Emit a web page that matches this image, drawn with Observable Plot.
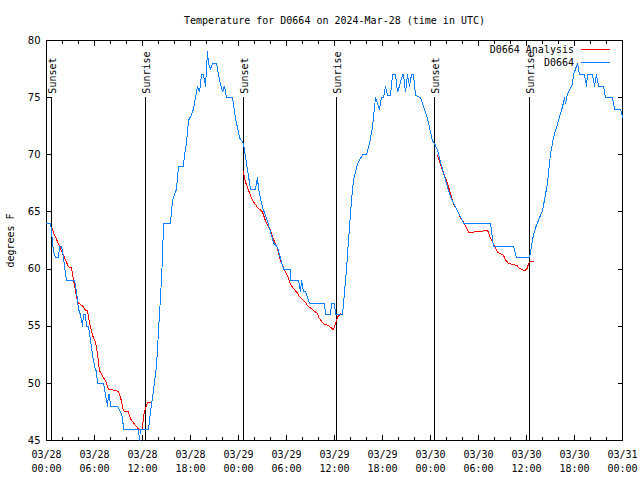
<!DOCTYPE html>
<html>
<head>
<meta charset="utf-8">
<script src="https://cdn.jsdelivr.net/npm/d3@7"></script>
<script src="https://cdn.jsdelivr.net/npm/@observablehq/plot@0.6"></script>
<style>
  html, body { margin: 0; padding: 0; background: #fff; }
  #chart { width: 640px; height: 480px; }
  #chart svg line, #chart svg path, #chart svg rect { shape-rendering: crispEdges; }
</style>
</head>
<body>
<div id="chart"></div>
<script>
// ---- Data (hours since 2024-03-28 00:00 UTC) ----
const titleText = "Temperature for D0664 on 2024-Mar-28 (time in UTC)";
const yLabel = "degrees F";
const seriesNames = ["D0664 Analysis", "D0664"];
const seriesColors = ["#ff0000", "#0a80ff"];

const obsHours = [0,0.5,0.625,0.75,0.875,1.125,1.5,1.625,1.875,2,2.125,2.375,2.5,3.5,3.75,4,4.25,4.5,4.625,4.875,5,5.25,5.5,5.75,6,6.25,6.375,7.125,7.375,7.625,7.75,7.875,8,8.875,9.25,9.5,9.625,11.5,11.625,11.75,12.75,13,13.375,13.75,14,14.25,14.5,14.625,15.5,15.75,16.25,16.5,17.125,17.25,17.5,17.75,18.125,18.375,18.625,18.875,19.125,19.375,19.625,19.875,20.125,20.25,20.5,20.75,21.25,21.5,21.75,22,22.25,22.5,23.25,23.625,24.125,24.625,24.875,25.5,26.125,26.375,26.5,27,27.625,28.375,28.875,29.625,30.5,30.55,31.5,31.75,31.875,32.125,32.375,32.875,34.75,34.875,35.5,35.625,36,36.125,37,37.25,37.5,37.75,38.125,38.375,38.875,39.5,40,40.375,40.75,41.125,41.375,41.625,41.875,42.125,42.375,42.625,43,43.25,43.625,43.875,44.125,44.5,44.625,44.875,45.125,45.375,45.625,45.875,46.125,46.75,47.25,47.625,48.25,48.5,48.875,49.625,50.5,51.375,52.125,55.5,55.875,58.375,58.75,60.375,60.625,60.875,61.125,61.625,62,62.625,63,63.375,64,64.5,64.75,64.875,65.125,65.75,65.875,66.375,66.625,67.25,67.5,67.625,68.25,68.5,68.75,69,69.625,69.875,70.75,71,71.75,72];
const obsTemps = [64,64,63.4,62.3,61.5,61,61,62,62,61.5,61,59.6,59,59,58,56.5,56,55,56,56,55,55,53.8,52.5,51.5,51,50,50,49,48,49,49,48,48,47.5,47,46,46,45,46,46,47.5,49.4,51.5,54.6,57.5,61,64,64,66,67,69,69,70,71,73,73.5,74,75,76,75.5,77,77,76,79,78,77.5,78,78,77,76.2,75.5,76,75,75,73.2,71.5,71,69.8,67,67,68,67,65.4,64.2,62.3,61.9,60,60,59,59,58,59,58,58,57,57,56,56,57,57,56,56,58,60,62.5,66,67.75,69.2,70,70,71,72.4,75,74.5,74,75,75,76,75.2,75.2,77,77,75.5,76,77,77,75.5,77,76,77,77,75.2,75,74,73.2,71.2,71,70.4,68.4,66.3,65.1,64,64,62,62,61,61,62,63,63.6,64.5,65.1,67.5,70.1,71.5,73,74.2,75,74.5,75.3,76.2,77,78,77,77,76,77,77,76,77,76,76,75,75,74,74,73.3];

// analysis series; null marks a gap between nights
const anaHours = [0.6875,0.875,1.375,1.75,2.125,2.375,2.75,3.125,3.375,3.625,3.875,4,4.5,4.875,5.125,5.25,5.5,5.75,6.125,6.375,6.625,6.75,7.125,7.375,7.75,9,9.25,9.625,10.25,10.5,11.375,11.75,12,12.125,12.375,12.625,13,
  18,
  24.625,24.875,25.25,25.75,26.375,27,27.375,28,28.25,28.875,29.25,29.875,30.125,30.5,30.75,31.375,31.5,32.375,32.625,33.875,34,34.625,35.125,35.875,36.125,36.375,36.75,
  42,
  48.875,49.25,49.625,50.125,50.5,50.875,51.375,51.75,52.125,52.625,52.75,54.25,55.125,55.5,55.875,56.375,57.125,57.375,57.75,58.875,59,59.625,59.875,60.125,60.25,60.5,60.875];
const anaTemps = [63.6,63.2,62.4,61.8,61.2,60.8,60.2,60.1,59,58.1,57.2,57,56.8,56.4,56.4,55.8,54.9,54.2,53.6,52.6,51.1,51,50.5,50.2,49.5,49.3,48.8,47.6,47.5,46.9,46.1,45.9,46,47.2,47.8,48.3,48.3,
  null,
  68.5,67.6,66.9,66,65.4,65,64.2,63.4,62.8,61.8,60.75,59.7,59.4,58.7,58.4,57.9,57.7,57.1,56.8,56.1,55.8,55.2,55.1,54.7,55.2,55.8,56.1,
  null,
  69.9,69.2,68.4,67.5,66.6,65.7,65.1,64.5,64.1,63.4,63.2,63.3,63.4,62.7,62.2,61.5,61.2,60.8,60.5,60.3,60.1,59.9,59.9,60.1,60.5,60.65,60.7];

const sunHours = [0.68, 12.41, 24.66, 36.25, 48.54, 60.375];
const sunLabels = ["Sunset", "Sunrise", "Sunset", "Sunrise", "Sunset", "Sunrise"];
const sunLineTop = 75;

const yDomain = [45, 80];
const yTicks = [45, 50, 55, 60, 65, 70, 75, 80];
const xMajorHours = d3.range(0, 73, 6);
const xMinorHours = d3.range(0, 73, 2).filter(h => h % 6 !== 0);

// ---- Build ----
const base = Date.UTC(2024, 2, 28);
const hr = h => new Date(base + h * 3600e3);
const obs = obsHours.map((h, i) => ({t: hr(h), v: obsTemps[i]}));
const ana = anaHours.map((h, i) => ({t: hr(h), v: anaTemps[i]}));
const sun = sunHours.map((h, i) => ({t: hr(h), label: sunLabels[i]}));
const fmt = d3.utcFormat("%m/%d\n%H:%M");
const mono = "DejaVu Sans Mono";

const chart = Plot.plot({
  width: 640,
  height: 480,
  marginTop: 40,
  marginBottom: 40,
  marginLeft: 46,
  marginRight: 18,
  style: {fontFamily: mono, fontSize: "10px", background: "#fff", color: "#000"},
  x: {type: "utc", domain: [hr(0), hr(72)], label: null},
  y: {domain: yDomain, label: null},
  marks: [
    // ticks (inward)
    Plot.axisX(xMajorHours.map(hr), {anchor: "bottom", tickSize: 5, dy: -5, tickFormat: () => "", stroke: "#000"}),
    Plot.axisX(xMajorHours.map(hr), {anchor: "top", tickSize: 5, dy: 5, tickFormat: () => "", stroke: "#000"}),
    Plot.axisX(xMinorHours.map(hr), {anchor: "bottom", tickSize: 3, dy: -3, tickFormat: () => "", stroke: "#000"}),
    Plot.axisX(xMinorHours.map(hr), {anchor: "top", tickSize: 3, dy: 3, tickFormat: () => "", stroke: "#000"}),
    Plot.axisY(yTicks, {anchor: "left", tickSize: 5, dx: 5, tickFormat: () => "", stroke: "#000"}),
    Plot.axisY(yTicks, {anchor: "right", tickSize: 5, dx: -5, tickFormat: () => "", stroke: "#000"}),
    // labels
    Plot.axisX(xMajorHours.map(hr), {anchor: "bottom", tickSize: 0, tickPadding: 8, tickFormat: fmt, lineHeight: 1.4, fontFamily: mono, fontSize: 10, fill: "#000"}),
    Plot.axisY(yTicks, {anchor: "left", tickSize: 0, tickPadding: 6, fontFamily: "DejaVu Sans", fontSize: 10, fill: "#000"}),
    // frame
    Plot.frame({stroke: "#000"}),
    // sun lines
    Plot.ruleX(sun, {x: "t", y1: yDomain[0], y2: sunLineTop, stroke: "#000", strokeWidth: 1}),
    Plot.text(sun, {x: "t", y: sunLineTop, text: "label", rotate: -90, textAnchor: "start", lineAnchor: "middle", dy: -4, dx: 1, fontFamily: mono, fontSize: 10, fill: "#000"}),
    // series
    Plot.line(ana, {x: "t", y: "v", stroke: seriesColors[0], strokeWidth: 1}),
    Plot.line(obs, {x: "t", y: "v", stroke: seriesColors[1], strokeWidth: 1}),
    // title & y label
    Plot.text([titleText], {frameAnchor: "top", dy: -20, lineAnchor: "middle", fontFamily: mono, fontSize: 10, fill: "#000"}),
    Plot.text([yLabel], {frameAnchor: "left", dx: -36, rotate: -90, lineAnchor: "middle", textAnchor: "middle", fontFamily: mono, fontSize: 10, fill: "#000"})
  ]
});

// legend (top-right inside frame)
const svg = d3.select(chart);
const lg = svg.append("g").attr("font-family", mono).attr("font-size", 10);
seriesNames.forEach((name, i) => {
  const y = 49.5 + i * 13.3;
  lg.append("text").attr("x", 574).attr("y", y).attr("text-anchor", "end")
    .attr("dominant-baseline", "central").attr("fill", "#000").text(name);
  lg.append("line").attr("x1", 581).attr("x2", 610).attr("y1", y).attr("y2", y)
    .attr("stroke", seriesColors[i]).attr("stroke-width", 1);
});

document.getElementById("chart").appendChild(chart);
</script>
</body>
</html>
